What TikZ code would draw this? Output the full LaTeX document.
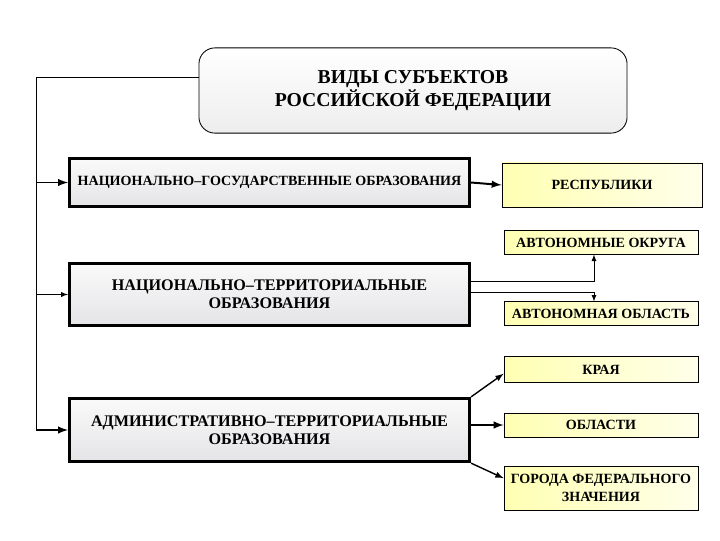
\documentclass[tikz,border=0pt]{standalone}
\usepackage{fontspec}
\setmainfont{Liberation Serif}
\begin{document}
\begin{tikzpicture}[x=0.025cm, y=-0.025cm, >=latex, every node/.style={font=\rmfamily\bfseries},
  kind/.style={draw, line width=2.2pt, minimum width=10cm, align=center, inner sep=1pt,
    top color=gray!4, bottom color=blue!6!gray!20},
  leaf/.style={draw, line width=0.6pt, minimum width=4.85cm, align=center, inner sep=1pt,
    left color=yellow!30, right color=yellow!8, font=\rmfamily\bfseries\fontsize{10}{12.5}\selectfont}]
\useasboundingbox (0,0) rectangle (720,540);
\node[draw, line width=0.6pt, rounded corners=0.4cm, minimum width=10.7cm, minimum height=2.13cm,
  top color=white, bottom color=gray!14, align=center, font=\rmfamily\bfseries\fontsize{14}{16.5}\selectfont]
  (title) at (413,90.5) {ВИДЫ СУБЪЕКТОВ\\РОССИЙСКОЙ ФЕДЕРАЦИИ};
\node[kind, minimum height=1.2cm, font=\rmfamily\bfseries\fontsize{10}{12}\selectfont] (nat) at (269.5,182.5)
  {НАЦИОНАЛЬНО–ГОСУДАРСТВЕННЫЕ ОБРАЗОВАНИЯ};
\node[kind, minimum height=1.56cm, font=\rmfamily\bfseries\fontsize{11.5}{13}\selectfont] (terr) at (269.5,294.5)
  {НАЦИОНАЛЬНО–ТЕРРИТОРИАЛЬНЫЕ\\ОБРАЗОВАНИЯ};
\node[kind, minimum height=1.58cm, font=\rmfamily\bfseries\fontsize{11.5}{13}\selectfont] (adm) at (269.5,430)
  {АДМИНИСТРАТИВНО–ТЕРРИТОРИАЛЬНЫЕ\\ОБРАЗОВАНИЯ};
% right column
\node[leaf, minimum width=5cm, minimum height=1.1cm] (resp) at (602,185) {РЕСПУБЛИКИ};
\node[leaf, minimum height=0.58cm] (okr) at (601,242.5) {АВТОНОМНЫЕ ОКРУГА};
\node[leaf, minimum height=0.58cm] (aobl) at (601,313.5) {АВТОНОМНАЯ ОБЛАСТЬ};
\node[leaf, minimum height=0.63cm] (kraya) at (601,369.5) {КРАЯ};
\node[leaf, minimum height=0.6cm] (obl) at (601,425) {ОБЛАСТИ};
\node[leaf, minimum height=1.1cm] (gor) at (601,488) {ГОРОДА ФЕДЕРАЛЬНОГО\\ЗНАЧЕНИЯ};
% trunk
\coordinate (corner) at (36,77);
\draw[line width=0.7pt] (title.west |- corner) -- (corner) -- (corner |- adm.west);
\draw[->,line width=1.4pt] (corner |- nat.west) -- (nat.west);
\draw[->,line width=0.7pt] (corner |- terr.west) -- (terr.west);
\draw[->,line width=1.4pt] (corner |- adm.west) -- (adm.west);
\draw[->,line width=1.4pt] (nat.east) -- (resp.west);
\draw[->,line width=0.6pt] ([yshift=9.6pt]terr.east) -| ([xshift=-5pt]okr.south);
\draw[->,line width=0.6pt] ([yshift=1.8pt]terr.east) -| ([xshift=-5pt]aobl.north);
\draw[->,line width=1pt] (adm.north east) -- ([yshift=-3pt]kraya.west);
\draw[->,line width=1.4pt] (adm.east |- obl.west) -- (obl.west);
\draw[->,line width=1pt] (adm.south east) -- ([yshift=7pt]gor.west);
\end{tikzpicture}
\end{document}
